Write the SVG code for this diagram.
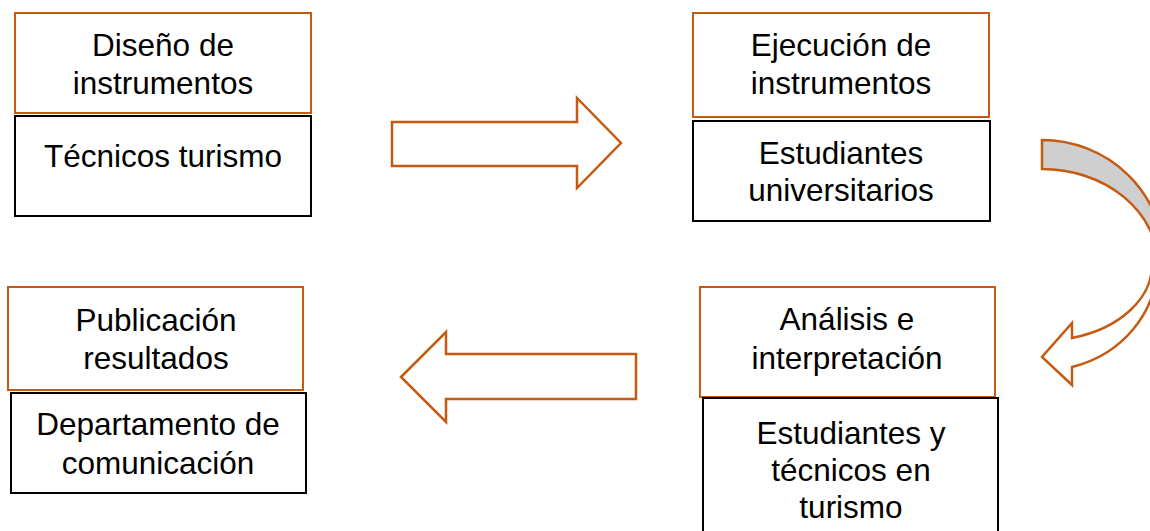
<svg xmlns="http://www.w3.org/2000/svg" width="1150" height="531" viewBox="0 0 1150 531">
<style>
.o{fill:#fff;stroke:#C55A11;stroke-width:2}
.k{fill:#fff;stroke:#000;stroke-width:2}
.t{font-family:"Liberation Sans",Arial,sans-serif;font-size:31.5px;fill:#000;text-anchor:middle}
.a{fill:#fff;stroke:#C55A11;stroke-width:2.5;stroke-linejoin:miter}
</style>
<rect width="1150" height="531" fill="#fff"/>
<g id="connectors">
<polygon class="a" points="392,122 577,122 577,98 621,143 577,188 577,166 392,166"/>
<polygon class="a" points="401,377 446,332 446,354 636,354 636,399 446,399 446,422"/>
<path d="M1042,140 A122,120 0 0 1 1164,260 L1158,265 A116,96 0 0 0 1042,169 Z" fill="#CFCFCF" stroke="#C55A11" stroke-width="2.5"/>
<path class="a" d="M1157,265 A115,106 0 0 1 1072,367 L1072,385 L1042,357 L1072,323 L1072,338 A110,76 0 0 0 1152,265 Z"/>
</g>
<g id="node1">
<rect class="o" x="15" y="13" width="296" height="100"/>
<text class="t" x="163" y="56">Diseño de</text>
<text class="t" x="163" y="94">instrumentos</text>
<rect class="k" x="15" y="116" width="296" height="100"/>
<text class="t" x="163" y="167">Técnicos turismo</text>
</g>
<g id="node2">
<rect class="o" x="693" y="13" width="296" height="104"/>
<text class="t" x="841" y="56">Ejecución de</text>
<text class="t" x="841" y="94">instrumentos</text>
<rect class="k" x="693" y="121" width="297" height="100"/>
<text class="t" x="841" y="164">Estudiantes</text>
<text class="t" x="841" y="201">universitarios</text>
</g>
<g id="node3">
<rect class="o" x="700" y="287" width="295" height="110"/>
<text class="t" x="847" y="330">Análisis e</text>
<text class="t" x="847" y="369">interpretación</text>
<rect class="k" x="703" y="398" width="295" height="140"/>
<text class="t" x="851" y="444">Estudiantes y</text>
<text class="t" x="851" y="481">técnicos en</text>
<text class="t" x="851" y="518">turismo</text>
</g>
<g id="node4">
<rect class="o" x="8" y="287" width="295" height="103"/>
<text class="t" x="156" y="331">Publicación</text>
<text class="t" x="156" y="369">resultados</text>
<rect class="k" x="11" y="393" width="295" height="100"/>
<text class="t" x="158" y="435">Departamento de</text>
<text class="t" x="158" y="474">comunicación</text>
</g>
</svg>
